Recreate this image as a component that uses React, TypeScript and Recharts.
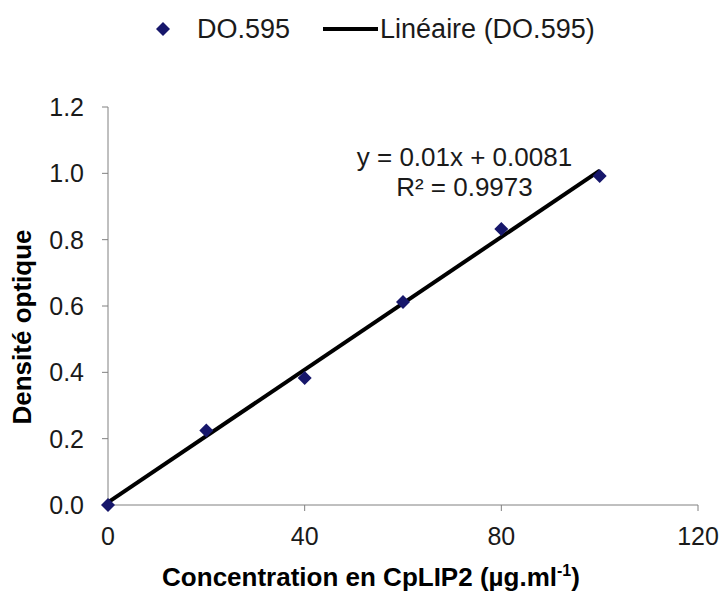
import { ScatterChart, Scatter, XAxis, YAxis, Legend, ReferenceDot, Label } from 'recharts';

const concentrations = [0, 20, 40, 60, 80, 100];
const densities = [0, 0.225, 0.383, 0.612, 0.832, 0.992];

// trend line from the equation shown on the chart: y = 0.01x + 0.0081
const trendX = [0, 100];
const trendY = [0.0081, 1.0081];

const xTicks = [0, 40, 80, 120];
const yTicks = [0, 0.2, 0.4, 0.6, 0.8, 1.0, 1.2];

const equationLines = ['y = 0.01x + 0.0081', 'R² = 0.9973'];
const equationAt = { x: 72.5, y: 1.007 };

const FONT = '"Liberation Sans", Arial, sans-serif';
const AXIS = '#808080';
const POINT = '#17176b';

const points = concentrations.map((x, i) => ({ x, y: densities[i] }));
const trend = trendX.map((x, i) => ({ x, y: trendY[i] }));

function Diamond(props: any) {
  const { cx, cy } = props;
  const r = 7;
  return (
    <polygon
      points={`${cx},${cy - r} ${cx + r},${cy} ${cx},${cy + r} ${cx - r},${cy}`}
      fill={POINT}
    />
  );
}

function NoShape() {
  return <g />;
}

function LegendContent() {
  return (
    <div style={{ height: 50, display: 'flex', alignItems: 'center', paddingLeft: 156, fontFamily: FONT, fontSize: 27, color: '#1a1a1a' }}>
      <svg width={14} height={14} style={{ marginRight: 27 }}>
        <polygon points="7,0 14,7 7,14 0,7" fill={POINT} />
      </svg>
      <span>DO.595</span>
      <svg width={55} height={8} style={{ marginLeft: 33, marginRight: 2 }}>
        <line x1={0} y1={4} x2={55} y2={4} stroke="#000" strokeWidth={4} />
      </svg>
      <span>Linéaire (DO.595)</span>
    </div>
  );
}

function EquationLabel(props: any) {
  const { viewBox } = props;
  const cx = viewBox.x + viewBox.width / 2;
  const cy = viewBox.y + viewBox.height / 2;
  return (
    <text x={cx} textAnchor="middle" fontFamily={FONT} fontSize={26} fill="#1a1a1a">
      <tspan x={cx} y={cy - 5}>{equationLines[0]}</tspan>
      <tspan x={cx} y={cy + 25}>{equationLines[1]}</tspan>
    </text>
  );
}

function XTitle(props: any) {
  const { viewBox } = props;
  const cx = viewBox.x + viewBox.width / 2 - 32;
  const y = viewBox.y + 81;
  return (
    <text x={cx} y={y} textAnchor="middle" fontFamily={FONT} fontSize={26} fontWeight="bold" fill="#000">
      Concentration en CpLIP2 (µg.ml
      <tspan fontSize={16} dy={-10}>-1</tspan>
      <tspan dy={10}>)</tspan>
    </text>
  );
}

function YTitle(props: any) {
  const { viewBox } = props;
  const x = 31;
  const cy = viewBox.y + viewBox.height / 2 + 21;
  return (
    <text
      x={x}
      y={cy}
      transform={`rotate(-90, ${x}, ${cy})`}
      textAnchor="middle"
      fontFamily={FONT}
      fontSize={26}
      fontWeight="bold"
      fill="#000"
    >
      Densité optique
    </text>
  );
}

export default function App() {
  return (
    <div style={{ position: 'absolute', left: 0, top: 0, background: '#fff' }}>
      <ScatterChart width={723} height={593} margin={{ top: 57, right: 25, bottom: 0, left: 0 }}>
        <Legend verticalAlign="top" align="left" content={LegendContent} wrapperStyle={{ top: 4, left: 0 }} />
        <XAxis
          type="number"
          dataKey="x"
          domain={[0, 120]}
          ticks={xTicks}
          height={88}
          stroke={AXIS}
          tickSize={6}
          tickMargin={16}
          tick={{ fontFamily: FONT, fontSize: 25, fill: '#1a1a1a' }}
          label={<Label content={XTitle} />}
        />
        <YAxis
          type="number"
          dataKey="y"
          domain={[0, 1.2]}
          ticks={yTicks}
          width={108}
          stroke={AXIS}
          tickSize={6}
          tickMargin={18}
          tickFormatter={(v: number) => v.toFixed(1)}
          tick={{ fontFamily: FONT, fontSize: 25, fill: '#1a1a1a' }}
          label={<Label content={YTitle} />}
        />
        <Scatter
          name="Linéaire (DO.595)"
          data={trend}
          line={{ stroke: '#000', strokeWidth: 4 }}
          lineType="joint"
          shape={NoShape}
          isAnimationActive={false}
        />
        <Scatter name="DO.595" data={points} shape={Diamond} isAnimationActive={false} />
        <ReferenceDot
          x={equationAt.x}
          y={equationAt.y}
          r={0}
          fill="none"
          stroke="none"
          ifOverflow="visible"
          label={<Label content={EquationLabel} />}
        />
      </ScatterChart>
    </div>
  );
}
